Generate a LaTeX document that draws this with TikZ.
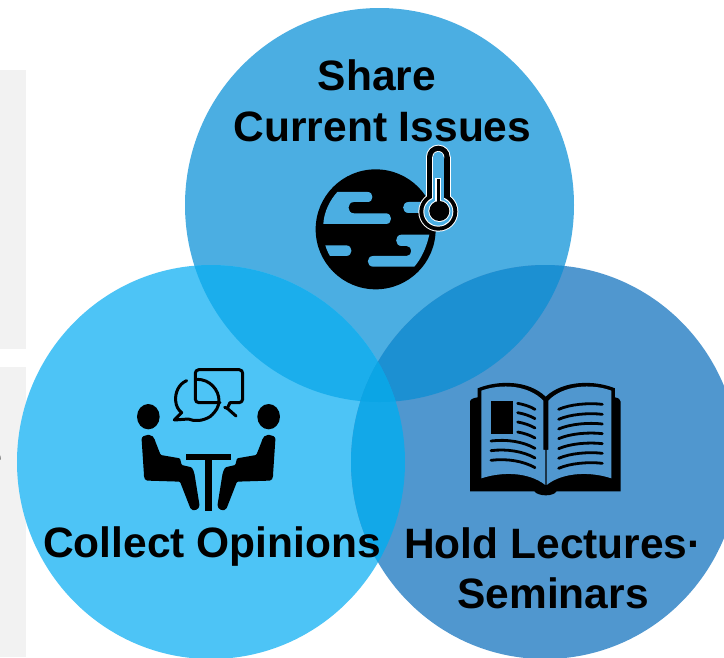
\documentclass[tikz,border=0pt]{standalone}
\usepackage{fontspec}
\setmainfont{Liberation Sans}
\definecolor{ctop}{RGB}{75,174,226}
\definecolor{cleft}{RGB}{77,196,246}
\definecolor{cright}{RGB}{80,151,207}
\definecolor{ctl}{RGB}{27,174,236}
\definecolor{ctr}{RGB}{28,144,210}
\definecolor{clr}{RGB}{18,168,232}
\definecolor{cmid}{RGB}{11,165,229}
\definecolor{panel}{RGB}{242,242,242}
\tikzset{
  lab/.style={font=\fontsize{42.5}{42.5}\selectfont\bfseries,text=black,anchor=base,inner sep=0pt},
  zoomed/.style={x=0.3333pt,y=-0.3333pt},
  bubble/.style={draw=black,line width=3pt,line join=round,line cap=round},
  leaf/.style={draw=black,line width=2.8pt,line cap=round},
}
\def\ctopc{(379.5,205) ellipse[x radius=194.5,y radius=197]}
\def\cleftc{(211,462) ellipse[x radius=194,y radius=197]}
\def\crightc{(545,462) ellipse[x radius=194,y radius=197]}
\def\personshape{(65,240) .. controls (65,230) and (75,225) .. (85,225) .. controls (95,225) and (103,232) .. (105,242) -- (122,285) -- (180,295) -- (185,315) -- (215,322) .. controls (220,330) and (222,335) .. (224,345) -- (238,432) .. controls (240,448) and (218,458) .. (210,442) -- (180,365) -- (85,362) .. controls (76,362) and (72,355) .. (72,345) -- cycle}
% thermometer silhouette: tube half width #2, bulb radius #3, colour #1
\newcommand{\thermolayer}[3]{%
  \fill[#1] (415,81) circle[radius=#2];
  \fill[#1] (415-#2,81) rectangle (415+#2,245);
  \fill[#1] (415,245) circle[radius=#3];
}
\begin{document}
\begin{tikzpicture}[x=1pt,y=-1pt]
\useasboundingbox (0,0) rectangle (724,657);
\fill[white] (0,0) rectangle (724,657);
% side panels
\fill[panel] (0,70) rectangle (26,349);
\fill[panel] (0,367) rectangle (26,657);
\node[font=\fontsize{38}{38}\selectfont,anchor=base east,inner sep=0pt] (clipped) at (3,469) {e};
% circles
\fill[ctop] \ctopc;
\fill[cleft] \cleftc;
\fill[cright] \crightc;
\begin{scope}\clip \ctopc; \fill[ctl] \cleftc; \fill[ctr] \crightc; \end{scope}
\begin{scope}\clip \cleftc; \fill[clr] \crightc; \end{scope}
\begin{scope}\clip \ctopc; \clip \cleftc; \fill[cmid] \crightc; \end{scope}
% planet icon
\begin{scope}[shift={(300,130)},zoomed]
\fill[black] (227,298) circle[radius=180];
\fill[ctop] (112,186) -- (203,186) .. controls (222,186) and (222,216) .. (203,216) -- (162,216) .. controls (140,216) and (140,250) .. (162,250) -- (258,250) .. controls (278,250) and (278,282) .. (258,282) -- (70,282) .. controls (72,245) and (90,210) .. (112,186) -- cycle;
\fill[ctop] (326,216) -- (380,216) -- (380,249) -- (326,249) .. controls (304,249) and (304,216) .. (326,216) -- cycle;
\fill[ctop] (388,314) -- (305,314) .. controls (283,314) and (283,348) .. (305,348) -- (320,348) .. controls (338,348) and (338,378) .. (320,378) -- (220,378) .. controls (198,378) and (198,410) .. (220,410) -- (343,410) .. controls (365,385) and (380,350) .. (388,314) -- cycle;
\fill[ctop] (76,346) -- (138,346) .. controls (160,346) and (160,378) .. (138,378) -- (90,378) .. controls (84,368) and (79,357) .. (76,346) -- cycle;
% thermometer
\thermolayer{white}{37}{60}
\thermolayer{black}{34}{57}
\thermolayer{white}{18}{45}
\thermolayer{ctop}{16}{42}
\fill[white] (406,143) rectangle (424,225);
\fill[white] (418,243) circle[radius=33];
\fill[black] (410,146) rectangle (420,225);
\fill[black] (418,243) circle[radius=30];
\end{scope}
% meeting icon
\begin{scope}[shift={(120,360)},zoomed]
\fill[black] (85,170) ellipse[x radius=34,y radius=38];
\fill[black] (446,170) ellipse[x radius=34,y radius=38];
\fill[black,rounded corners=1pt] \personshape;
\begin{scope}[xscale=-1,xshift=-177pt]
\fill[black,rounded corners=1pt] \personshape;
\end{scope}
\fill[black] (198,283) rectangle (332,301);
\fill[black] (255,300) rectangle (275,452);
\draw[bubble] (200,62) .. controls (175,72) and (165,100) .. (167,122) .. controls (168,138) and (175,150) .. (185,158) -- (163,180) -- (205,177) .. controls (225,186) and (250,182) .. (270,170) .. controls (288,155) and (297,140) .. (297,122) .. controls (297,90) and (270,58) .. (232,58);
\draw[bubble,rounded corners=3.5pt] (300,128) -- (226,128) -- (226,29) -- (368,29) -- (368,128) -- (330,128);
\draw[bubble] (330,128) -- (322,145) -- (348,168);
\draw[bubble] (322,145) -- (314,142);
\end{scope}
% book icon
\begin{scope}[shift={(455,370)},zoomed]
\fill[black] (45,95) .. controls (45,88) and (55,84) .. (68,82) -- (68,55) .. controls (130,30) and (220,30) .. (272,80) .. controls (325,30) and (420,30) .. (480,55) -- (480,82) .. controls (490,84) and (497,88) .. (497,95) -- (497,364) -- (305,364) .. controls (295,380) and (250,380) .. (238,364) -- (45,364) -- cycle;
\fill[cright] (79,62) .. controls (140,40) and (220,45) .. (265,92) -- (265,240) -- (271,240) -- (271,345) .. controls (220,305) and (140,305) .. (79,325) -- cycle;
\fill[cright] (280,92) .. controls (325,45) and (410,40) .. (469,62) -- (469,325) .. controls (410,305) and (325,305) .. (275,345) -- (275,240) -- (280,240) -- cycle;
\fill[black] (107,92) rectangle (175,192);
\foreach \y in {100,128,156,186}{
  \draw[leaf] (188,\y) .. controls (205,\y+3) and (225,\y+9) .. (240,\y+18);
}
\foreach \y in {213,242,271}{
  \draw[leaf] (108,\y) .. controls (155,\y-6) and (205,\y+2) .. (240,\y+22);
}
\foreach \y in {118,148,177,206,236,265,295}{
  \draw[leaf] (311,\y) .. controls (345,\y-15) and (400,\y-20) .. (442,\y-15);
}
\end{scope}
% labels
\node[lab] (share) at (377,90) {Share};
\node[lab] (issues) at (382.5,141) {Current Issues};
\node[lab] (collect) at (212,557) {Collect Opinions};
\node[lab] (hold) at (553,558) {Hold Lectures·};
\node[lab] (seminars) at (553,608) {Seminars};
\end{tikzpicture}
\end{document}
